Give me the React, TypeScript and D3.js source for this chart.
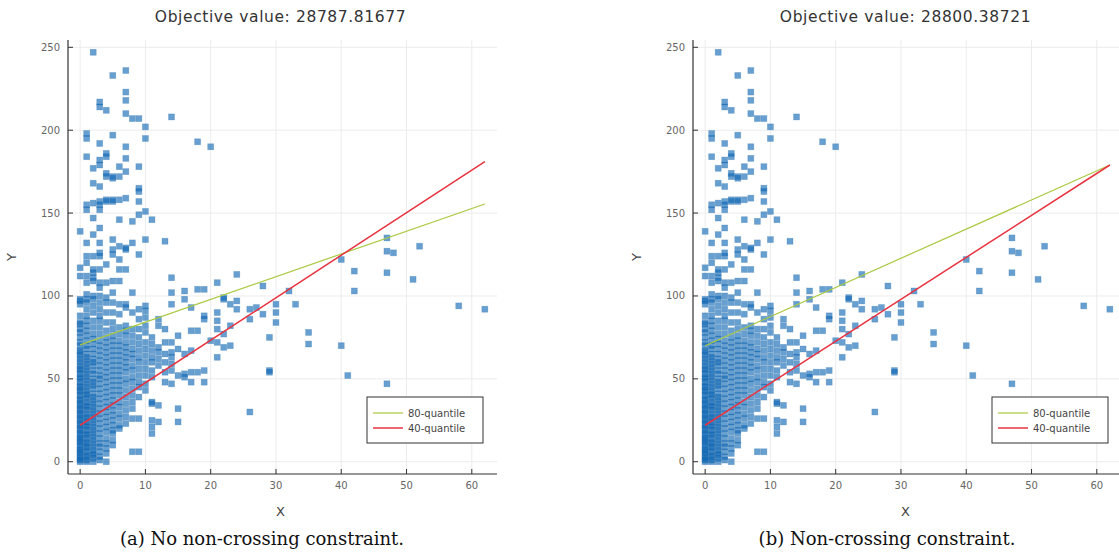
import React, { useEffect } from 'react';
import * as d3 from 'd3';

const width = 1119;
const height = 555;

// scatter data, one column per integer X value
const colX = [0, 1, 2, 3, 4, 5, 6, 7, 8, 9, 10, 11, 12, 13, 14, 15, 16, 17, 18, 19, 20, 21, 22, 23, 24, 26, 27, 28, 29, 30, 32, 33, 35, 40, 41, 42, 47, 48, 51, 52, 58, 62];
const colY = [
  [0, 1, 2, 3, 5, 6, 7, 9, 10, 12, 13, 14, 16, 17, 19, 20, 22, 23, 25, 26, 28, 29, 31, 32, 34, 35, 37, 38, 40, 42, 43, 45, 46, 48, 50, 51, 53, 55, 56, 58, 60, 62, 64, 66, 67, 70, 72, 75, 78, 80, 83, 84, 88, 95, 97, 98, 112, 117, 139],
  [0, 1, 3, 4, 6, 8, 9, 11, 12, 14, 16, 17, 19, 21, 22, 24, 26, 27, 29, 31, 33, 34, 36, 38, 40, 41, 43, 45, 47, 49, 51, 53, 55, 57, 59, 61, 63, 65, 68, 70, 73, 76, 79, 82, 85, 88, 92, 96, 98, 101, 108, 112, 120, 124, 132, 152, 155, 184, 195, 198],
  [0, 2, 4, 5, 7, 9, 11, 13, 15, 17, 19, 21, 23, 25, 27, 29, 31, 33, 35, 37, 39, 41, 44, 46, 48, 50, 53, 55, 58, 60, 62, 65, 68, 71, 74, 77, 81, 85, 90, 94, 98, 100, 109, 111, 114, 116, 124, 137, 147, 156, 168, 177, 247],
  [1, 3, 6, 9, 11, 14, 17, 20, 23, 26, 29, 32, 35, 38, 41, 44, 47, 50, 52, 55, 58, 61, 64, 67, 70, 73, 77, 81, 85, 88, 92, 96, 100, 105, 108, 116, 124, 126, 132, 141, 152, 155, 157, 166, 179, 182, 192, 214, 217],
  [0, 5, 8, 11, 14, 18, 21, 24, 27, 30, 33, 36, 39, 42, 45, 48, 51, 54, 57, 60, 63, 66, 69, 72, 75, 79, 84, 90, 96, 99, 108, 119, 157, 158, 172, 174, 184, 186, 212],
  [10, 13, 17, 19, 22, 25, 28, 31, 34, 37, 40, 43, 46, 49, 52, 55, 58, 61, 64, 67, 70, 73, 76, 80, 84, 90, 96, 102, 109, 125, 128, 134, 157, 158, 171, 172, 197, 233],
  [20, 22, 26, 29, 33, 36, 40, 43, 46, 49, 52, 55, 58, 61, 64, 67, 70, 73, 77, 81, 89, 95, 109, 116, 122, 130, 146, 158, 172, 178],
  [23, 27, 31, 35, 39, 43, 47, 50, 54, 57, 60, 63, 66, 69, 72, 76, 79, 82, 93, 95, 116, 128, 129, 159, 175, 183, 190, 210, 218, 223, 236],
  [6, 26, 32, 36, 40, 44, 48, 51, 55, 58, 62, 65, 68, 72, 76, 80, 90, 102, 132, 145, 207],
  [6, 26, 39, 45, 48, 52, 56, 60, 63, 67, 71, 75, 80, 86, 92, 125, 149, 157, 163, 165, 178, 207],
  [43, 47, 52, 56, 60, 64, 68, 72, 78, 82, 87, 91, 94, 134, 151, 195, 202],
  [17, 21, 25, 35, 36, 51, 55, 60, 63, 67, 71, 75, 146],
  [24, 34, 58, 62, 66, 69, 82, 86],
  [48, 54, 60, 65, 72, 80, 133],
  [47, 55, 59, 63, 66, 72, 95, 102, 111, 208],
  [24, 32, 52, 68, 76],
  [51, 53, 65, 98, 103],
  [48, 54, 67, 79, 93],
  [54, 79, 104, 193],
  [48, 55, 86, 88, 104],
  [73, 190],
  [63, 72, 80, 85, 90, 108],
  [69, 77, 98, 99],
  [70, 82, 95],
  [92, 97, 113],
  [30, 86, 92],
  [93],
  [89, 106],
  [54, 55, 75],
  [84, 90, 95],
  [103],
  [95],
  [71, 78],
  [70, 122],
  [52],
  [103, 115],
  [47, 114, 127, 135],
  [126],
  [110],
  [130],
  [94],
  [92],
];

const xTicks = [0, 10, 20, 30, 40, 50, 60];
const yTicks = [0, 50, 100, 150, 200, 250];

// fitted quantile lines, value at X = 0 and X = 62
const quantileX = [0, 62];
const leftQ80 = [70.5, 155.5];
const leftQ40 = [22, 181];
const rightQ80 = [70, 179];
const rightQ40 = [22, 179];

const titles = ['Objective value: 28787.81677', 'Objective value: 28800.38721'];
const captions = ['(a) No non-crossing constraint.', '(b) Non-crossing constraint.'];
const legendLabels = ['80-quantile', '40-quantile'];

const q80Color = '#a9c93f';
const q40Color = '#e8323f';
const sans = '"DejaVu Sans", sans-serif';

const points = colX.flatMap((x, i) => colY[i].map(y => ({ x, y })));

const pad = (ext: number[]) => {
  const d = (ext[1] - ext[0]) * 0.03;
  return [ext[0] - d, ext[1] + d];
};
const xDomain = pad(d3.extent(points, d => d.x) as number[]);
const yDomain = pad(d3.extent(points, d => d.y) as number[]);

const Panel = ({ left, title, caption, q80, q40 }) => {
  const plotW = 429;
  const top = 40;
  const bottom = 474;
  const x = d3.scaleLinear().domain(xDomain).range([left, left + plotW]);
  const y = d3.scaleLinear().domain(yDomain).range([bottom, top]);
  const cx = left + plotW / 2 - 2;

  const line = d3.line<number>().x((d, i) => x(quantileX[i])).y(d => y(d));
  const legX = left + 299;
  const legY = 397;

  return (
    <g>
      <text x={cx} y={22} textAnchor="middle" fontFamily={sans} fontSize={15.5} letterSpacing={0.6} fill="#333">{title}</text>

      {xTicks.map(t => (
        <line key={'gx' + t} x1={x(t)} x2={x(t)} y1={top} y2={bottom} stroke="#ececec" strokeWidth={1} />
      ))}
      {yTicks.map(t => (
        <line key={'gy' + t} x1={left} x2={left + plotW} y1={y(t)} y2={y(t)} stroke="#ececec" strokeWidth={1} />
      ))}

      <g>
        {points.map((p, i) => (
          <rect key={i} x={x(p.x) - 3} y={y(p.y) - 3} width={6} height={6}
            fill="#0a64b4" fillOpacity={0.62} stroke="#2f74a8" strokeOpacity={0.35} strokeWidth={0.7} />
        ))}
      </g>

      <path d={line(q80) || ''} fill="none" stroke={q80Color} strokeWidth={1.2} />
      <path d={line(q40) || ''} fill="none" stroke={q40Color} strokeWidth={1.5} />

      <line x1={left} x2={left} y1={top} y2={bottom} stroke="#333" strokeWidth={1.2} />
      <line x1={left} x2={left + plotW} y1={bottom} y2={bottom} stroke="#333" strokeWidth={1.2} />
      {xTicks.map(t => (
        <g key={'tx' + t}>
          <line x1={x(t)} x2={x(t)} y1={bottom} y2={bottom - 5} stroke="#333" strokeWidth={1} />
          <text x={x(t)} y={bottom + 15} textAnchor="middle" fontFamily={sans} fontSize={10} fill="#666">{t}</text>
        </g>
      ))}
      {yTicks.map(t => (
        <g key={'ty' + t}>
          <line x1={left} x2={left + 5} y1={y(t)} y2={y(t)} stroke="#333" strokeWidth={1} />
          <text x={left - 8} y={y(t) + 3.5} textAnchor="end" fontFamily={sans} fontSize={10} fill="#666">{t}</text>
        </g>
      ))}

      <text x={cx} y={516} textAnchor="middle" fontFamily={sans} fontSize={13} fill="#444">X</text>
      <text transform={`translate(${left - 52},${(top + bottom) / 2}) rotate(-90)`} textAnchor="middle" fontFamily={sans} fontSize={13} fill="#444">Y</text>

      <rect x={legX} y={legY} width={116} height={46} fill="#fff" stroke="#333" strokeWidth={1} />
      {legendLabels.map((lab, i) => (
        <g key={lab}>
          <line x1={legX + 6} x2={legX + 36} y1={legY + 16 + i * 15} y2={legY + 16 + i * 15}
            stroke={i === 0 ? q80Color : q40Color} strokeWidth={i === 0 ? 1.2 : 1.5} />
          <text x={legX + 41} y={legY + 19.5 + i * 15} fontFamily={sans} fontSize={10} fill="#444">{lab}</text>
        </g>
      ))}

      <text x={left + 194} y={545} textAnchor="middle" fontFamily='"DejaVu Serif", serif' fontSize={18} fill="#111">{caption}</text>
    </g>
  );
};

export default function App() {
  useEffect(() => {
    document.body.style.margin = '0';
    document.body.style.overflow = 'hidden';
  }, []);

  return (
    <svg width={width} height={height} style={{ display: 'block', background: '#fff' }}>
      <Panel left={68} title={titles[0]} caption={captions[0]} q80={leftQ80} q40={leftQ40} />
      <Panel left={693} title={titles[1]} caption={captions[1]} q80={rightQ80} q40={rightQ40} />
    </svg>
  );
}
